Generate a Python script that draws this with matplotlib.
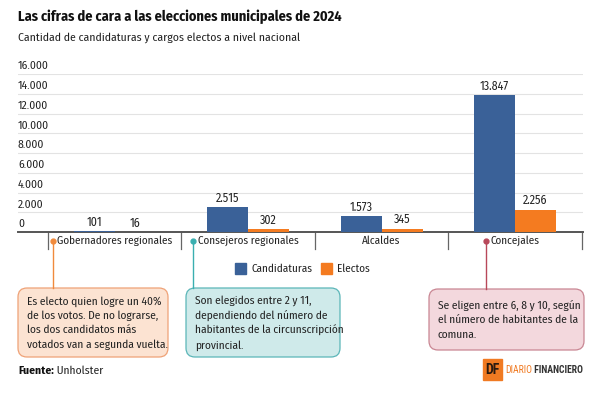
import numpy as np
import matplotlib
matplotlib.use('Agg')
import matplotlib.pyplot as plt
from matplotlib.patches import FancyBboxPatch, Rectangle

plt.rcParams['font.family'] = ['Fira Sans Condensed', 'DejaVu Sans']

# datos
categorias = ['Gobernadores regionales', 'Consejeros regionales', 'Alcaldes', 'Concejales']
candidaturas = [101, 2515, 1573, 13847]
electos = [16, 302, 345, 2256]
yticks = [0, 2000, 4000, 6000, 8000, 10000, 12000, 14000, 16000]

def fmt(v):
    return f'{v:,}'.replace(',', '.')

AZUL = '#3A6198'
NARANJA = '#F47B20'
TXT = '#222222'

fig = plt.figure(figsize=(6, 3.94), dpi=100)
ax = fig.add_axes([18/600, 1-232/394, 565/600, 158/394])

x = np.arange(len(categorias))
w = 0.307
ax.bar(x - w/2, candidaturas, w, color=AZUL, zorder=3)
ax.bar(x + w/2, electos, w, color=NARANJA, zorder=3)

for xi, c, e in zip(x, candidaturas, electos):
    ax.text(xi - w/2, c + 280, fmt(c), ha='center', va='bottom', fontsize=8.6, color=TXT)
    ax.text(xi + w/2, e + 280, fmt(e), ha='center', va='bottom', fontsize=8.6, color=TXT)

ax.set_xlim(-0.725, 3.51)
ax.set_ylim(0, 16000)
ax.set_yticks(yticks)
ax.set_yticklabels([])
ax.tick_params(left=False, bottom=False, labelbottom=False)
ax.grid(axis='y', color='#E3E3E3', lw=0.8, zorder=0)
for s in ['top', 'right', 'left']:
    ax.spines[s].set_visible(False)
ax.spines['bottom'].set_color('#555555')
ax.spines['bottom'].set_linewidth(1.4)

# etiquetas del eje y, sobre las lineas de grilla
for t in yticks:
    ax.text(0, t + 250, fmt(t), transform=ax.get_yaxis_transform(), ha='left', va='bottom',
            fontsize=8.3, color=TXT)

# separadores de categorias
for b in np.arange(-0.5, 4, 1):
    ax.plot([b, b], [0, -1750], color='#666666', lw=0.9, clip_on=False)

# etiquetas de categoria
for i, cat in enumerate(categorias):
    ax.text(i, -850, cat, ha='center', va='center', fontsize=8.0, color=TXT)

# leyenda
fig.patches.append(Rectangle((235/600, 1-274/394), 11/600, 11/394, transform=fig.transFigure,
                             color=AZUL))
fig.text(251/600, 1-268.5/394, 'Candidaturas', fontsize=8.0, va='center', color=TXT)
fig.patches.append(Rectangle((321/600, 1-274/394), 11/600, 11/394, transform=fig.transFigure,
                             color=NARANJA))
fig.text(337/600, 1-268.5/394, 'Electos', fontsize=8.0, va='center', color=TXT)

# notas
notas = [
    (18, 288, 150, 69, '#FCE3D2', '#EFA277', '#F08A3C', 52.5,
     'Es electo quien logre un 40%\nde los votos. De no lograrse,\nlos dos candidatos más\nvotados van a segunda vuelta.'),
    (186, 288, 154, 69, '#CFEAEA', '#5BB6B8', '#3AAFB0', 193,
     'Son elegidos entre 2 y 11,\ndependiendo del número de\nhabitantes de la circunscripción\nprovincial.'),
    (429, 289, 155, 61, '#F3D8DD', '#C98693', '#B8485A', 486,
     'Se eligen entre 6, 8 y 10, según\nel número de habitantes de la\ncomuna.'),
]
for bx, by, bw, bh, fc, ec, lc, lx, txt in notas:
    fig.patches.append(FancyBboxPatch((bx/600, 1-(by+bh)/394), bw/600, bh/394,
                                      boxstyle='round,pad=0,rounding_size=0.015',
                                      transform=fig.transFigure, fc=fc, ec=ec, lw=0.9,
                                      mutation_aspect=600/394))
    fig.lines.append(plt.Line2D([lx/600, lx/600], [1-242/394, 1-by/394], transform=fig.transFigure,
                                color=lc, lw=1))
    fig.lines.append(plt.Line2D([lx/600], [1-241/394], transform=fig.transFigure,
                                marker='o', ms=3.5, color=lc))
    fig.text((bx+9)/600, 1-(by+bh/2+0.5)/394, txt, fontsize=8.2, va='center', ha='left',
             color=TXT, linespacing=1.45)

# titulos
fig.text(18/600, 1-17/394, 'Las cifras de cara a las elecciones municipales de 2024',
         fontsize=10.3, fontweight='bold', va='center', color='#111111')
fig.text(18/600, 1-38/394, 'Cantidad de candidaturas y cargos electos a nivel nacional',
         fontsize=8.4, va='center', color=TXT)

# fuente
t = fig.text(18/600, 1-371/394, 'Fuente:', fontsize=8.3, fontweight='bold', va='center', color='#111111')
ax.annotate(' Unholster', xy=(1, 0.5), xycoords=t, va='center', ha='left', fontsize=8.3, color=TXT)

# logo
fig.patches.append(Rectangle((483/600, 1-380/394), 19/600, 21/394, transform=fig.transFigure,
                             color='#F07A22'))
fig.text(492.5/600, 1-370/394, 'DF', fontsize=10, fontweight='bold', color='#2A1A10',
         ha='center', va='center', family='Roboto Condensed')
d = fig.text(505/600, 1-370/394, 'DIARIO', fontsize=7, color='#F07A22', va='center', family='Roboto Condensed')
ax.annotate(' FINANCIERO', xy=(1, 0.5), xycoords=d, va='center', ha='left', fontsize=7,
            fontweight='bold', color='#333333', family='Roboto Condensed')

fig.savefig('out.png', dpi=100, facecolor='white')
